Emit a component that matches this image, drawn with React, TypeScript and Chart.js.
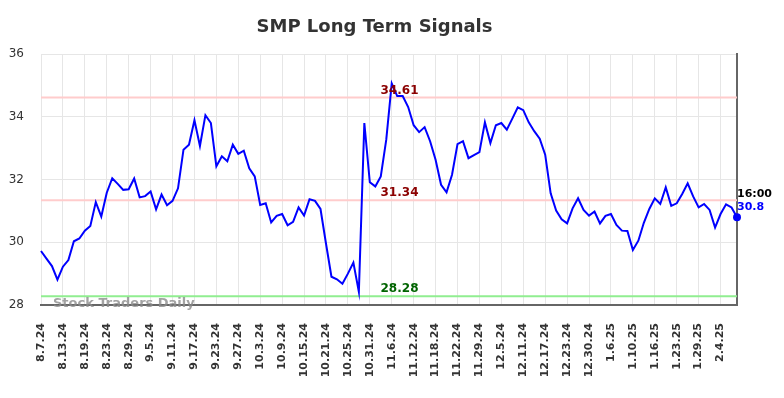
import React, { useEffect, useRef } from "react";
import { Chart, registerables } from "chart.js";

Chart.register(...registerables);

const dates: string[] = [
  "8.7.24","8.8.24","8.9.24","8.12.24","8.13.24","8.14.24","8.15.24","8.16.24","8.19.24","8.20.24","8.21.24","8.22.24","8.23.24","8.26.24","8.27.24","8.28.24","8.29.24","8.30.24",
  "9.3.24","9.4.24","9.5.24","9.6.24","9.9.24","9.10.24","9.11.24","9.12.24","9.13.24","9.16.24","9.17.24","9.18.24","9.19.24","9.20.24","9.23.24","9.24.24","9.25.24","9.26.24","9.27.24","9.30.24",
  "10.1.24","10.2.24","10.3.24","10.4.24","10.7.24","10.8.24","10.9.24","10.10.24","10.11.24","10.14.24","10.15.24","10.16.24","10.17.24","10.18.24","10.21.24","10.22.24","10.23.24","10.24.24","10.25.24","10.28.24","10.29.24","10.30.24","10.31.24",
  "11.1.24","11.4.24","11.5.24","11.6.24","11.7.24","11.8.24","11.11.24","11.12.24","11.13.24","11.14.24","11.15.24","11.18.24","11.19.24","11.20.24","11.21.24","11.22.24","11.25.24","11.26.24","11.27.24","11.29.24",
  "12.2.24","12.3.24","12.4.24","12.5.24","12.6.24","12.9.24","12.10.24","12.11.24","12.12.24","12.13.24","12.16.24","12.17.24","12.18.24","12.19.24","12.20.24","12.23.24","12.24.24","12.26.24","12.27.24","12.30.24","12.31.24",
  "1.2.25","1.3.25","1.6.25","1.7.25","1.8.25","1.9.25","1.10.25","1.13.25","1.14.25","1.15.25","1.16.25","1.17.25","1.21.25","1.22.25","1.23.25","1.24.25","1.27.25","1.28.25","1.29.25","1.30.25","1.31.25",
  "2.3.25","2.4.25","2.5.25","2.6.25","2.7.25"
];

const prices: number[] = [
  29.72,29.48,29.24,28.81,29.22,29.43,30.03,30.12,30.37,30.52,
  31.28,30.82,31.58,32.04,31.86,31.67,31.69,32.03,31.43,31.47,
  31.62,31.05,31.52,31.18,31.32,31.72,32.95,33.11,33.89,33.07,
  34.05,33.80,32.42,32.74,32.58,33.11,32.82,32.92,32.36,32.10,
  31.19,31.24,30.63,30.84,30.90,30.54,30.65,31.11,30.85,31.37,
  31.32,31.06,29.96,28.90,28.82,28.68,29.00,29.35,28.42,33.80,
  31.91,31.78,32.10,33.27,35.06,34.66,34.66,34.31,33.73,33.51,
  33.67,33.22,32.63,31.83,31.59,32.15,33.13,33.22,32.68,32.78,
  32.87,33.82,33.16,33.73,33.80,33.59,33.94,34.30,34.21,33.82,
  33.54,33.30,32.79,31.56,31.01,30.73,30.60,31.08,31.40,31.03,
  30.85,30.98,30.60,30.84,30.90,30.55,30.37,30.36,29.75,30.05,
  30.62,31.06,31.40,31.22,31.75,31.16,31.24,31.54,31.88,31.46,
  31.11,31.22,31.03,30.47,30.90,31.21,31.11,30.80
];

const resistanceLevels: number[] = [34.61, 31.34];
const supportLevels: number[] = [28.28];
const yTicks: number[] = [28, 30, 32, 34, 36];
const lastTimeLabel = "16:00";
const titleText = "SMP Long Term Signals";
const watermark = "Stock Traders Daily";

const FONT = "'DejaVu Sans', sans-serif";

const overlayPlugin = {
  id: "overlay",
  beforeDatasetsDraw(chart: any) {
    const { ctx, chartArea, scales } = chart;
    const y = scales.y;
    ctx.save();
    ctx.lineWidth = 2;
    resistanceLevels.forEach((v) => {
      const py = y.getPixelForValue(v);
      ctx.strokeStyle = "#ffcccc";
      ctx.beginPath();
      ctx.moveTo(chartArea.left, py);
      ctx.lineTo(chartArea.right, py);
      ctx.stroke();
    });
    supportLevels.forEach((v) => {
      const py = y.getPixelForValue(v);
      ctx.strokeStyle = "#90ee90";
      ctx.beginPath();
      ctx.moveTo(chartArea.left, py);
      ctx.lineTo(chartArea.right, py);
      ctx.stroke();
    });
    ctx.restore();
  },
  afterDatasetsDraw(chart: any) {
    const { ctx, chartArea, scales } = chart;
    const y = scales.y;
    const x = scales.x;
    ctx.save();
    ctx.font = `bold 18px ${FONT}`;
    ctx.fillStyle = "#333333";
    ctx.textAlign = "center";
    ctx.textBaseline = "middle";
    ctx.fillText(titleText, 374.5, 27);

    ctx.font = `bold 12px ${FONT}`;
    ctx.textAlign = "center";
    ctx.textBaseline = "bottom";
    const lx = 399.5;
    resistanceLevels.forEach((v) => {
      const py = y.getPixelForValue(v);
      ctx.fillStyle = "#8b0000";
      ctx.fillText(v.toFixed(2), lx, py - 1);
    });
    supportLevels.forEach((v) => {
      const py = y.getPixelForValue(v);
      ctx.fillStyle = "#006400";
      ctx.fillText(v.toFixed(2), lx, py - 1);
    });

    ctx.font = `bold 13px ${FONT}`;
    ctx.textAlign = "left";
    ctx.textBaseline = "middle";
    ctx.fillStyle = "rgba(140,140,140,0.8)";
    ctx.fillText(watermark, 53, chartArea.bottom - 1);

    const last = prices.length - 1;
    const px = x.getPixelForValue(last);
    const py = y.getPixelForValue(prices[last]);
    ctx.font = `bold 11px ${FONT}`;
    ctx.textAlign = "left";
    ctx.textBaseline = "middle";
    ctx.fillStyle = "#000000";
    ctx.fillText(lastTimeLabel, px, py - 23);
    ctx.fillStyle = "#0000ff";
    ctx.fillText(prices[last].toFixed(1), px, py - 10);
    ctx.restore();
  },
};

export default function App() {
  const canvasRef = useRef<HTMLCanvasElement | null>(null);

  useEffect(() => {
    if (!canvasRef.current) return;
    const last = prices.length - 1;
    const chart = new Chart(canvasRef.current, {
      type: "line",
      data: {
        labels: dates,
        datasets: [
          {
            data: prices,
            borderColor: "#0000ff",
            backgroundColor: "#0000ff",
            borderWidth: 2,
            tension: 0,
            pointRadius: (c: any) => (c.dataIndex === last ? 4 : 0),
            pointHoverRadius: 0,
            pointBorderWidth: 0,
          },
        ],
      },
      options: {
        animation: false,
        responsive: false,
        devicePixelRatio: 1,
        layout: { padding: { top: 54, left: 0, right: 0, bottom: 0 } },
        plugins: {
          legend: { display: false },
          title: { display: false },
          tooltip: { enabled: false },
        },
        scales: {
          x: {
            type: "category",
            offset: false,
            grid: { color: "#e6e6e6", lineWidth: 1, drawTicks: false },
            border: { display: true, color: "#666666", width: 2 },
            ticks: {
              autoSkip: false,
              maxRotation: 90,
              minRotation: 90,
              padding: 18,
              color: "#333333",
              font: { family: FONT, size: 11, weight: "bold" },
              callback: (_v: any, i: number) => (i % 4 === 0 ? dates[i] : null),
            },
            afterFit: (s: any) => {
              s.height = 93;
            },
          },
          y: {
            min: 28,
            max: 36,
            afterBuildTicks: (s: any) => {
              s.ticks = yTicks.map((v) => ({ value: v }));
            },
            grid: { color: "#e6e6e6", lineWidth: 1, drawTicks: false },
            border: { display: false },
            ticks: {
              padding: 17,
              color: "#333333",
              font: { family: FONT, size: 12 },
            },
            afterFit: (s: any) => {
              s.width = 41;
            },
          },
          yRight: {
            position: "right",
            min: 28,
            max: 36,
            grid: { drawOnChartArea: false, drawTicks: false },
            border: { display: true, color: "#666666", width: 2 },
            ticks: { display: false },
            afterFit: (s: any) => {
              s.width = 47;
            },
          },
        },
      } as any,
      plugins: [overlayPlugin],
    });
    return () => chart.destroy();
  }, []);

  return (
    <div style={{ position: "fixed", left: 0, top: 0, width: 784, height: 398, background: "#ffffff" }}>
      <canvas ref={canvasRef} width={784} height={398} style={{ display: "block" }} />
    </div>
  );
}
